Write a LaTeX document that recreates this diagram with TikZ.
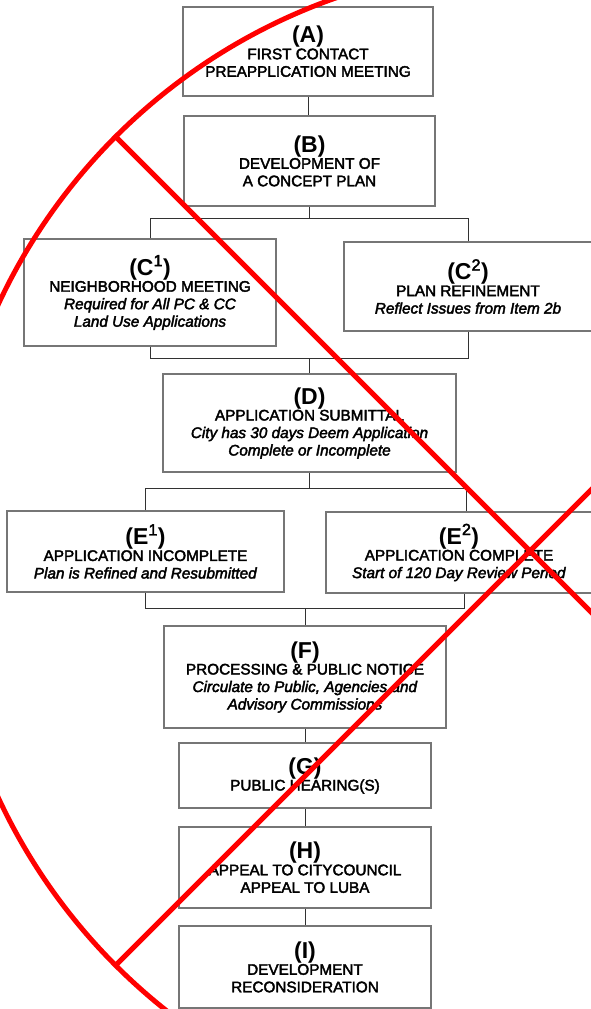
\documentclass[tikz,border=0pt]{standalone}
\usepackage{fontspec}
\setmainfont{Liberation Sans}[UprightFeatures={FakeBold=2.5},ItalicFeatures={FakeBold=2.5}]
\usetikzlibrary{calc}
\definecolor{boxgray}{RGB}{118,118,118}
\definecolor{linegray}{RGB}{50,50,50}
\newcommand{\steptag}[1]{{\fontsize{23}{23}\selectfont\bfseries(#1)}}
\newcommand{\stepsup}[1]{\textsuperscript{\mdseries #1}}

\begin{document}
\begin{tikzpicture}[x=1pt,y=-1pt,
  stepbox/.style={draw=boxgray,line width=1.9pt,fill=white,align=center,inner sep=0pt,
    font=\fontsize{15.3}{17.5}\selectfont},
  link/.style={draw=linegray,line width=1pt},
  cross/.style={draw=red,line width=5pt}]
\useasboundingbox[fill=white] (0,0) rectangle (590,1009);

\node[stepbox,minimum width=250,minimum height=89] (a) at (308,51.5)
  {\steptag{A}\\[-1pt] FIRST CONTACT\\ PREAPPLICATION MEETING};
\node[stepbox,minimum width=251,minimum height=90] (b) at (309.5,161)
  {\steptag{B}\\[-1pt] DEVELOPMENT OF\\ A CONCEPT PLAN};
\node[stepbox,minimum width=252,minimum height=107] (c1) at (150,292.5)
  {\steptag{C\stepsup{1}}\\[-1pt] NEIGHBORHOOD MEETING\\ \textit{Required for All PC \& CC}\\ \textit{Land Use Applications}};
\node[stepbox,minimum width=248,minimum height=89] (c2) at (468,286.5)
  {\steptag{C\stepsup{2}}\\[-1pt] PLAN REFINEMENT\\ \textit{Reflect Issues from Item 2b}};
\node[stepbox,minimum width=293,minimum height=98] (d) at (309.5,423)
  {\steptag{D}\\[-1pt] APPLICATION SUBMITTAL\\ \textit{City has 30 days Deem Application}\\ \textit{Complete or Incomplete}};
\node[stepbox,minimum width=277,minimum height=81] (e1) at (145.5,551.5)
  {\steptag{E\stepsup{1}}\\[-1pt] APPLICATION INCOMPLETE\\ \textit{Plan is Refined and Resubmitted}};
\node[stepbox,minimum width=266,minimum height=81] (e2) at (459,552.5)
  {\steptag{E\stepsup{2}}\\[-1pt] APPLICATION COMPLETE\\ \textit{Start of 120 Day Review Period}};
\node[stepbox,minimum width=282,minimum height=102] (f) at (305,677)
  {\steptag{F}\\[-1pt] PROCESSING \& PUBLIC NOTICE\\ \textit{Circulate to Public, Agencies and}\\ \textit{Advisory Commissions}};
\node[stepbox,minimum width=252,minimum height=65] (g) at (305,775.5)
  {\steptag{G}\\[-1pt] PUBLIC HEARING(S)};
\node[stepbox,minimum width=252,minimum height=81] (h) at (305,867.5)
  {\steptag{H}\\[-1pt] APPEAL TO CITYCOUNCIL\\ APPEAL TO LUBA};
\node[stepbox,minimum width=252,minimum height=82] (i) at (305,967)
  {\steptag{I}\\[-1pt] DEVELOPMENT\\ RECONSIDERATION};

\draw[link] (a.south) -- (a.south |- b.north);
\draw[link] (b.south) -- ++(0,12) coordinate (bsplit);
\draw[link] (c1.north) |- (bsplit) -| (c2.north);
\coordinate (cjoin) at ($(d.north)+(0,-15)$);
\draw[link] (c1.south) |- (cjoin) -| (c2.south);
\draw[link] (cjoin) -- (d.north);
\draw[link] (d.south) -- ++(0,16) coordinate (dsplit);
\draw[link] (e1.north) |- (dsplit) -| ($(e2.north)+(7,0)$);
\coordinate (ejoin) at ($(f.north)+(0,-17)$);
\draw[link] (e1.south) |- (ejoin) -| ($(e2.south)+(5,0)$);
\draw[link] (ejoin) -- (f.north);
\draw[link] (f.south) -- (g.north);
\draw[link] (g.south) -- (h.north);
\draw[link] (h.south) -- (i.north);

\draw[cross] (530,551) circle (586);
\draw[cross] (116,137) -- (944,965);
\draw[cross] (116,965) -- (944,137);
\end{tikzpicture}
\end{document}
